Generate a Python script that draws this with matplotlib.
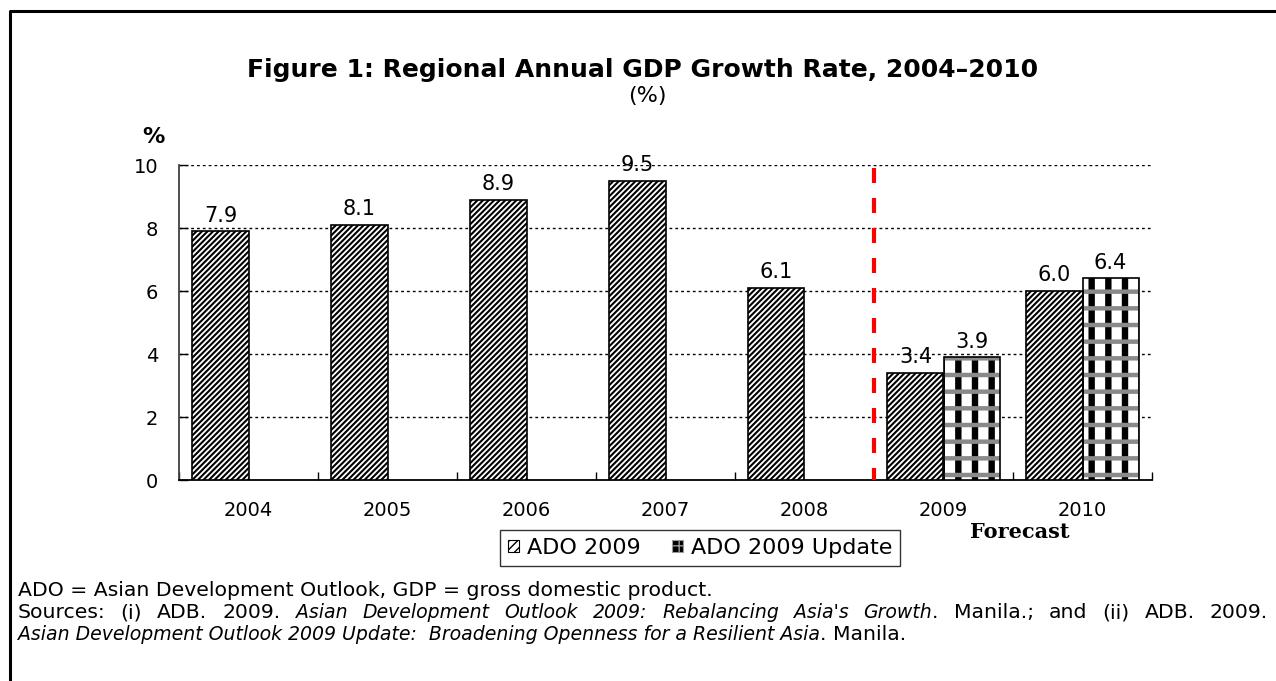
import matplotlib.pyplot as plt
from matplotlib.lines import Line2D
from matplotlib.patches import Patch

plt.rcParams["font.family"] = ["DejaVu Sans"]

# ── Data ─────────────────────────────────────────────────────────────────────
years      = ["2004", "2005", "2006", "2007", "2008", "2009", "2010"]
ado_2009   = [7.9, 8.1, 8.9, 9.5, 6.1, 3.4, 6.0]
ado_update = [None, None, None, None, None, 3.9, 6.4]
y_ticks    = [0, 2, 4, 6, 8, 10]

BAR_W = 0.403
FS = 14


def hatched_bar(ax, x, h, hatch, color, hlw, face="none"):
    with plt.rc_context({"hatch.linewidth": hlw}):
        b = ax.bar(x, h, BAR_W, color=face, edgecolor=color, linewidth=0,
                   hatch=hatch, zorder=3)
    for p in b.patches:
        if hasattr(p, "set_hatch_linewidth"):
            p.set_hatch_linewidth(hlw)
    return b


def text_runs(fig, x, y, runs, width=None):
    """Write a line from (text, style, size) pieces; spread the words to
    `width` pixels when given (justified line)."""
    r = fig.canvas.get_renderer()
    if width is None:
        for s, style, size in runs:
            t = fig.text(x, y, s, style=style, fontsize=size, ha="left", va="center")
            x += t.get_window_extent(renderer=r).width / fig.bbox.width
        return
    # (word, style, size, glued-to-previous)
    words = []
    prev_space = True
    for s, style, size in runs:
        for k, w in enumerate(s.split()):
            glued = k == 0 and bool(words) and not s[0].isspace() and not prev_space
            words.append((w, style, size, glued))
        prev_space = s[-1].isspace()
    arts = [fig.text(0, y, w, style=st, fontsize=sz, ha="left", va="center")
            for w, st, sz, _ in words]
    ws = [a.get_window_extent(renderer=r).width for a in arts]
    n_gaps = sum(1 for w in words[1:] if not w[3])
    gap = (width - sum(ws)) / n_gaps
    px = x * fig.bbox.width
    for i, (a, w) in enumerate(zip(arts, ws)):
        if i > 0 and not words[i][3]:
            px += gap
        a.set_x(px / fig.bbox.width)
        px += w


fig = plt.figure(figsize=(12.76, 6.81), dpi=100)
ax = fig.add_axes([179 / 1276, 1 - 480 / 681, 973 / 1276, 315 / 681])

xs = list(range(len(years)))

# ── Bars ─────────────────────────────────────────────────────────────────────
for i, v in enumerate(ado_2009):
    x = i - BAR_W / 2
    hatched_bar(ax, x, v, "//////", "black", 1.5, face="white")
    ax.bar(x, v, BAR_W, color="none", edgecolor="black", linewidth=1.2, zorder=4)
    ax.annotate(f"{v:.1f}", (x, v), xytext=(0, 4), textcoords="offset points",
                ha="center", va="bottom", fontsize=15)

for i, v in enumerate(ado_update):
    if v is None:
        continue
    x = i + BAR_W / 2
    hatched_bar(ax, x, v, "|", "black", 4.6, face="white")
    hatched_bar(ax, x, v, "-", "#8a8a8a", 3.2)
    ax.bar(x, v, BAR_W, color="none", edgecolor="black", linewidth=1.2, zorder=4)
    ax.annotate(f"{v:.1f}", (x, v), xytext=(0, 4), textcoords="offset points",
                ha="center", va="bottom", fontsize=15)

# forecast divider
ax.plot([4.5, 4.5], [9.9, 0], color="red", lw=3, linestyle=(0, (3.6, 3.6)),
        solid_capstyle="butt", zorder=5)

# ── Axes ─────────────────────────────────────────────────────────────────────
ax.set_xlim(-0.5, 6.5)
ax.set_ylim(0, 10)
ax.set_yticks(y_ticks)
ax.set_yticklabels([str(t) for t in y_ticks], fontsize=FS)
for t in y_ticks[1:]:
    ax.axhline(t, color="black", lw=1, linestyle=(0, (2, 2.2)), zorder=1)

ax.set_xticks([i - 0.5 for i in range(len(years) + 1)])
ax.set_xticklabels([])
ax.set_xticks(xs, minor=True)
ax.set_xticklabels(years, minor=True, fontsize=FS)
ax.tick_params(axis="x", which="major", direction="in", length=6, width=1)
ax.tick_params(axis="x", which="minor", length=0, pad=15)
ax.tick_params(axis="y", direction="in", length=6.5, width=1, pad=15)

for s in ("top", "right"):
    ax.spines[s].set_visible(False)
ax.spines["left"].set_color("#404040")
ax.spines["left"].set_linewidth(1.3)
ax.spines["bottom"].set_linewidth(1.3)

# ── Titles and labels ────────────────────────────────────────────────────────
fig.text(643 / 1276, 1 - 70 / 681,
         "Figure 1: Regional Annual GDP Growth Rate, 2004\u20132010",
         ha="center", va="center", fontsize=18, fontweight="bold")
fig.text(647 / 1276, 1 - 96 / 681, "(%)", ha="center", va="center", fontsize=16)
fig.text(153 / 1276, 1 - 137 / 681, "%", ha="center", va="center",
         fontsize=16, fontweight="bold")
fig.text(1020 / 1276, 1 - 532 / 681, "Forecast", ha="center", va="center",
         fontsize=15, fontweight="bold", family="DejaVu Serif")

# ── Legend ───────────────────────────────────────────────────────────────────
with plt.rc_context({"hatch.linewidth": 1.0}):
    h1 = Patch(facecolor="white", edgecolor="black", hatch="////", linewidth=0.8)
    h2 = Patch(facecolor="black", edgecolor="#9a9a9a", hatch="++", linewidth=0.8)
leg = fig.legend([h1, h2], ["ADO 2009", "ADO 2009 Update"], loc="center",
                 bbox_to_anchor=(700 / 1276, 1 - 548 / 681), ncol=2,
                 fontsize=16, frameon=True, fancybox=False, edgecolor="black",
                 handlelength=0.5, handleheight=0.5, handletextpad=0.35,
                 columnspacing=1.4, borderpad=0.35, borderaxespad=0)
leg.get_frame().set_linewidth(1.0)

# ── Notes ────────────────────────────────────────────────────────────────────
NFS, IFS = 14.7, 13.6
text_runs(fig, 18 / 1276, 1 - 590 / 681,
          [("ADO = Asian Development Outlook, GDP = gross domestic product.", "normal", NFS)])
text_runs(fig, 18 / 1276, 1 - 613 / 681,
          [("Sources: (i) ADB. 2009. ", "normal", NFS),
           ("Asian Development Outlook 2009:  Rebalancing Asia's Growth", "italic", IFS),
           (". Manila.; and (ii) ADB. 2009.", "normal", NFS)],
          width=1250)
text_runs(fig, 18 / 1276, 1 - 634 / 681,
          [("Asian Development Outlook 2009 Update:  Broadening Openness for a Resilient Asia", "italic", IFS),
           (". Manila.", "normal", NFS)])

# frame around the figure (top and left edges)
fig.add_artist(Line2D([9.5 / 1276, 9.5 / 1276, 1.0], [0.0, 1 - 10.5 / 681, 1 - 10.5 / 681],
                      transform=fig.transFigure, color="black", lw=2.2))

fig.savefig("out.png", dpi=100)
